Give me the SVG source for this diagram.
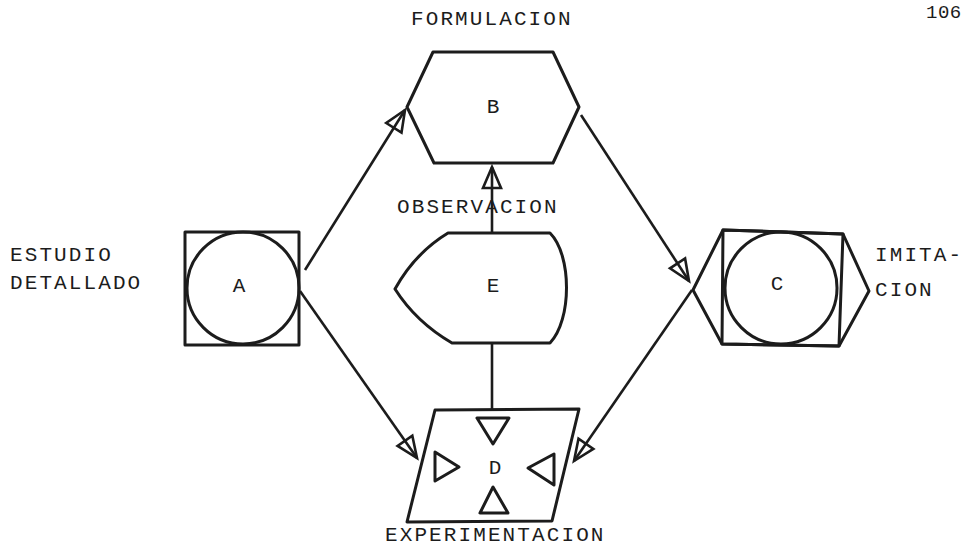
<svg xmlns="http://www.w3.org/2000/svg" width="968" height="550" viewBox="0 0 968 550">
<style>
.s{fill:none;stroke:#1c1c1c;stroke-width:3;stroke-linejoin:round}
.c{fill:none;stroke:#1c1c1c;stroke-width:2.6}
.t{font-family:"Liberation Mono","Courier New",monospace;font-size:21px;fill:#1c1c1c;letter-spacing:2.1px}
.l{font-family:"Liberation Mono","Courier New",monospace;font-size:21px;fill:#1c1c1c;text-anchor:middle}
</style>
<defs>
<marker id="ah" viewBox="-24 -13 28 26" refX="0" refY="0" markerWidth="28" markerHeight="26" markerUnits="userSpaceOnUse" orient="auto">
<path d="M0,0 L-21,-9 L-21,9 Z" fill="none" stroke="#1c1c1c" stroke-width="2.6" stroke-linejoin="miter"/>
</marker>
</defs>
<rect width="968" height="550" fill="#fff"/>
<text x="926" y="18" font-family="'Liberation Mono','Courier New',monospace" font-size="19" fill="#1c1c1c" letter-spacing="0.5">106</text>

<g id="A">
<rect class="s" x="185" y="232" width="114" height="113"/>
<circle class="s" cx="243" cy="288" r="56"/>
<text class="l" x="239" y="292">A</text>
<text class="t" x="10" y="261">ESTUDIO</text>
<text class="t" x="10" y="289">DETALLADO</text>
</g>

<g id="B">
<polygon class="s" points="433,52 553,52 579,107 553,163 434,163 407,107"/>
<text class="l" x="493" y="113">B</text>
<text class="t" x="411" y="25">FORMULACION</text>
</g>

<g id="C">
<polygon class="s" points="693,290 723,230 843,234 869,291 839,346 722,344"/>
<polygon class="s" points="723,230 843,234 839,346 722,344"/>
<circle class="s" cx="781" cy="288" r="56"/>
<text class="l" x="777" y="290">C</text>
<text class="t" x="875" y="261">IMITA-</text>
<text class="t" x="875" y="296">CION</text>
</g>

<g id="E">
<path class="s" d="M448,233 L550,233 C572,255 572,320 550,343 L452,343 Q416,322 395,289 Q415,253 448,233 Z"/>
<text class="l" x="493" y="292">E</text>
<text class="t" x="397" y="213">OBSERVACION</text>
</g>

<g id="D">
<polygon class="s" points="435,410 579,409 552,521 407,522"/>
<polygon class="s" points="477,418 509,418 493,444"/>
<polygon class="s" points="435,452 435,481 459,467"/>
<polygon class="s" points="554,454 554,485 528,468"/>
<polygon class="s" points="480,513 508,513 493,487"/>
<text class="l" x="495" y="474">D</text>
<text class="t" x="385" y="541">EXPERIMENTACION</text>
</g>

<g id="connectors">
<line class="c" x1="305" y1="270" x2="405" y2="110" marker-end="url(#ah)"/>
<line class="c" x1="581" y1="115" x2="689" y2="281" marker-end="url(#ah)"/>
<line class="c" x1="300" y1="291" x2="417" y2="458" marker-end="url(#ah)"/>
<line class="c" x1="692" y1="290" x2="574" y2="461" marker-end="url(#ah)"/>
<line class="c" x1="492" y1="233" x2="492" y2="167" marker-end="url(#ah)"/>
<line class="c" x1="492" y1="343" x2="492" y2="410"/>
</g>
</svg>
